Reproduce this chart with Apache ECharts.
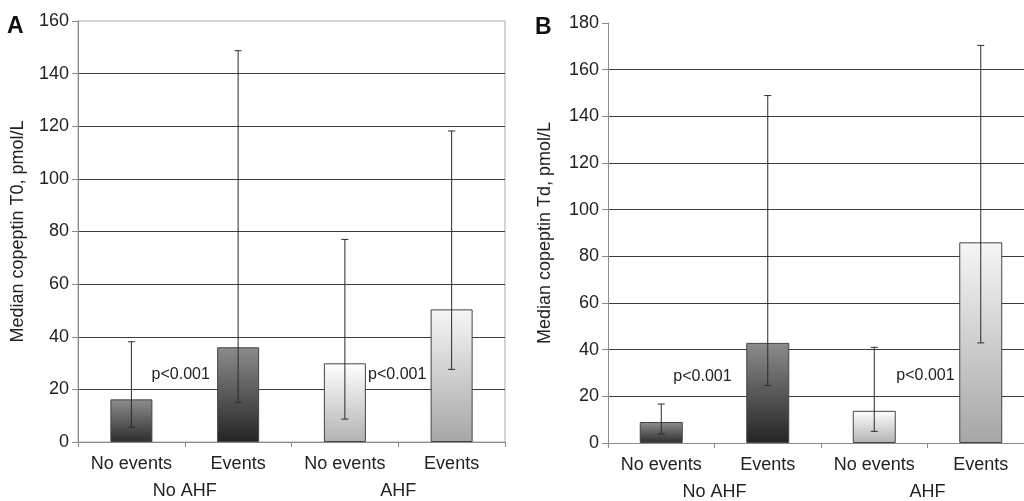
<!DOCTYPE html>
<html>
<head>
<meta charset="utf-8">
<script src="https://cdn.jsdelivr.net/npm/echarts@6/dist/echarts.min.js"></script>
<style>
  html, body { margin: 0; padding: 0; background: #fff; }
  #chart { width: 1024px; height: 501px; }
</style>
</head>
<body>
<div id="chart"></div>
<script>
// ─── copeptin medians by outcome, two panels (T0 and Td) ───
const categories = ['No events', 'Events', 'No events', 'Events'];
const groups = ['No AHF', 'AHF'];

// panel A: copeptin at T0
const medianT0 = [16.2, 36.0, 29.9, 50.4];
const lowT0 = [5.6, 15.1, 8.7, 27.6];
const highT0 = [38.1, 148.7, 77.0, 118.2];

// panel B: copeptin at Td
const medianTd = [9.0, 42.9, 13.8, 86.0];
const lowTd = [3.9, 24.6, 5.0, 42.9];
const highTd = [16.7, 148.9, 41.0, 170.4];

// y ranges
const yMaxA = 160, yMaxB = 180, yStep = 20;

// p-value notes: [category on the left of the gap, y value]
const pNotesA = [[0, 25.8], [2, 25.8]];
const pNotesB = [[0, 28.5], [2, 29.0]];
const pText = 'p<0.001';

const FONT = "'Liberation Sans', Arial, sans-serif";
const pShiftA = [-4, -1], pShiftB = [-12, -2]; // px nudges

const grad = (top, bottom) => new echarts.graphic.LinearGradient(0, 0, 0, 1, [
  { offset: 0, color: top }, { offset: 1, color: bottom }
]);
const barFills = [
  grad('#8e8e8e', '#2e2e2e'),
  grad('#8c8c8c', '#242424'),
  grad('#ffffff', '#b2b2b2'),
  grad('#f6f6f6', '#a6a6a6'),
];

const barData = (vals) => vals.map((v, i) => ({ value: v, itemStyle: { color: barFills[i] } }));
const errData = (lo, hi) => lo.map((v, i) => [i, v, hi[i]]);

function errorBars(params, api) {
  const x = api.value(0);
  const lo = api.coord([x, api.value(1)]);
  const hi = api.coord([x, api.value(2)]);
  const cap = 3.5;
  const st = { stroke: '#2a2a2a', lineWidth: 1 };
  return {
    type: 'group',
    children: [
      { type: 'line', shape: { x1: lo[0], y1: lo[1], x2: hi[0], y2: hi[1] }, style: st },
      { type: 'line', shape: { x1: hi[0] - cap, y1: hi[1], x2: hi[0] + cap, y2: hi[1] }, style: st },
      { type: 'line', shape: { x1: lo[0] - cap, y1: lo[1], x2: lo[0] + cap, y2: lo[1] }, style: st },
    ],
  };
}

const pRenderer = (shifts) => (params, api) => {
  const i = api.value(0);
  const a = api.coord([i, api.value(1)]);
  const b = api.coord([i + 1, api.value(1)]);
  return {
    type: 'text',
    style: {
      x: (a[0] + b[0]) / 2 + shifts[params.dataIndex], y: a[1],
      text: pText, align: 'center', verticalAlign: 'middle',
      font: `16px ${FONT}`, fill: '#222',
    },
  };
};

const catAxis = (gridIndex) => ({
  type: 'category', gridIndex, data: categories,
  axisLine: { show: true, lineStyle: { color: '#8a8a8a', width: 1 } },
  axisTick: { show: true, length: 5, lineStyle: { color: '#8a8a8a' } },
  axisLabel: { fontFamily: FONT, fontSize: 18, color: '#222', margin: 13, interval: 0 },
  splitLine: { show: false },
});
const groupAxis = (gridIndex) => ({
  type: 'category', gridIndex, data: groups, position: 'bottom', offset: 27,
  axisLine: { show: false }, axisTick: { show: false },
  axisLabel: { fontFamily: FONT, fontSize: 18, color: '#222', margin: 13, interval: 0 },
});
const valAxis = (gridIndex, max, name, gap) => ({
  type: 'value', gridIndex, min: 0, max, interval: yStep,
  name, nameLocation: 'middle', nameGap: gap,
  nameTextStyle: { fontFamily: FONT, fontSize: 18, color: '#222' },
  axisLine: { show: true, lineStyle: { color: '#8a8a8a', width: 1 } },
  axisTick: { show: true, length: 6, lineStyle: { color: '#8a8a8a' } },
  axisLabel: { fontFamily: FONT, fontSize: 18, color: '#222', margin: 9 },
  splitLine: { show: true, showMinLine: false, showMaxLine: false, lineStyle: { color: '#3c3c3c', width: 1 } },
});

const chart = echarts.init(document.getElementById('chart'), null, { renderer: 'canvas' });
chart.setOption({
  animation: false,
  backgroundColor: '#fff',
  grid: [
    { left: 78, top: 21, width: 427, height: 421, outerBoundsMode: 'none',
      show: true, borderColor: '#a8a8a8', borderWidth: 1, backgroundColor: 'transparent' },
    { left: 608, top: 23, width: 426, height: 420, outerBoundsMode: 'none' },
  ],
  xAxis: [catAxis(0), groupAxis(0), catAxis(1), groupAxis(1)],
  yAxis: [
    valAxis(0, yMaxA, 'Median copeptin T0, pmol/L', 51),
    valAxis(1, yMaxB, 'Median copeptin Td, pmol/L', 54),
  ],
  graphic: [
    { type: 'text', left: 7, top: 15, style: { text: 'A', font: `bold 23px ${FONT}`, fill: '#111' } },
    { type: 'text', left: 535, top: 16, style: { text: 'B', font: `bold 23px ${FONT}`, fill: '#111' } },
  ],
  series: [
    { type: 'bar', xAxisIndex: 0, yAxisIndex: 0, barWidth: 42, data: barData(medianT0),
      itemStyle: { borderColor: '#444', borderWidth: 1 }, z: 3 },
    { type: 'custom', xAxisIndex: 0, yAxisIndex: 0, renderItem: errorBars,
      data: errData(lowT0, highT0), encode: { x: 0, y: [1, 2] }, z: 5 },
    { type: 'custom', xAxisIndex: 0, yAxisIndex: 0, renderItem: pRenderer(pShiftA),
      data: pNotesA, encode: { x: 0, y: 1 }, z: 6 },

    { type: 'bar', xAxisIndex: 2, yAxisIndex: 1, barWidth: 43, data: barData(medianTd),
      itemStyle: { borderColor: '#444', borderWidth: 1 }, z: 3 },
    { type: 'custom', xAxisIndex: 2, yAxisIndex: 1, renderItem: errorBars,
      data: errData(lowTd, highTd), encode: { x: 0, y: [1, 2] }, z: 5 },
    { type: 'custom', xAxisIndex: 2, yAxisIndex: 1, renderItem: pRenderer(pShiftB),
      data: pNotesB, encode: { x: 0, y: 1 }, z: 6 },
  ],
});
</script>
</body>
</html>
